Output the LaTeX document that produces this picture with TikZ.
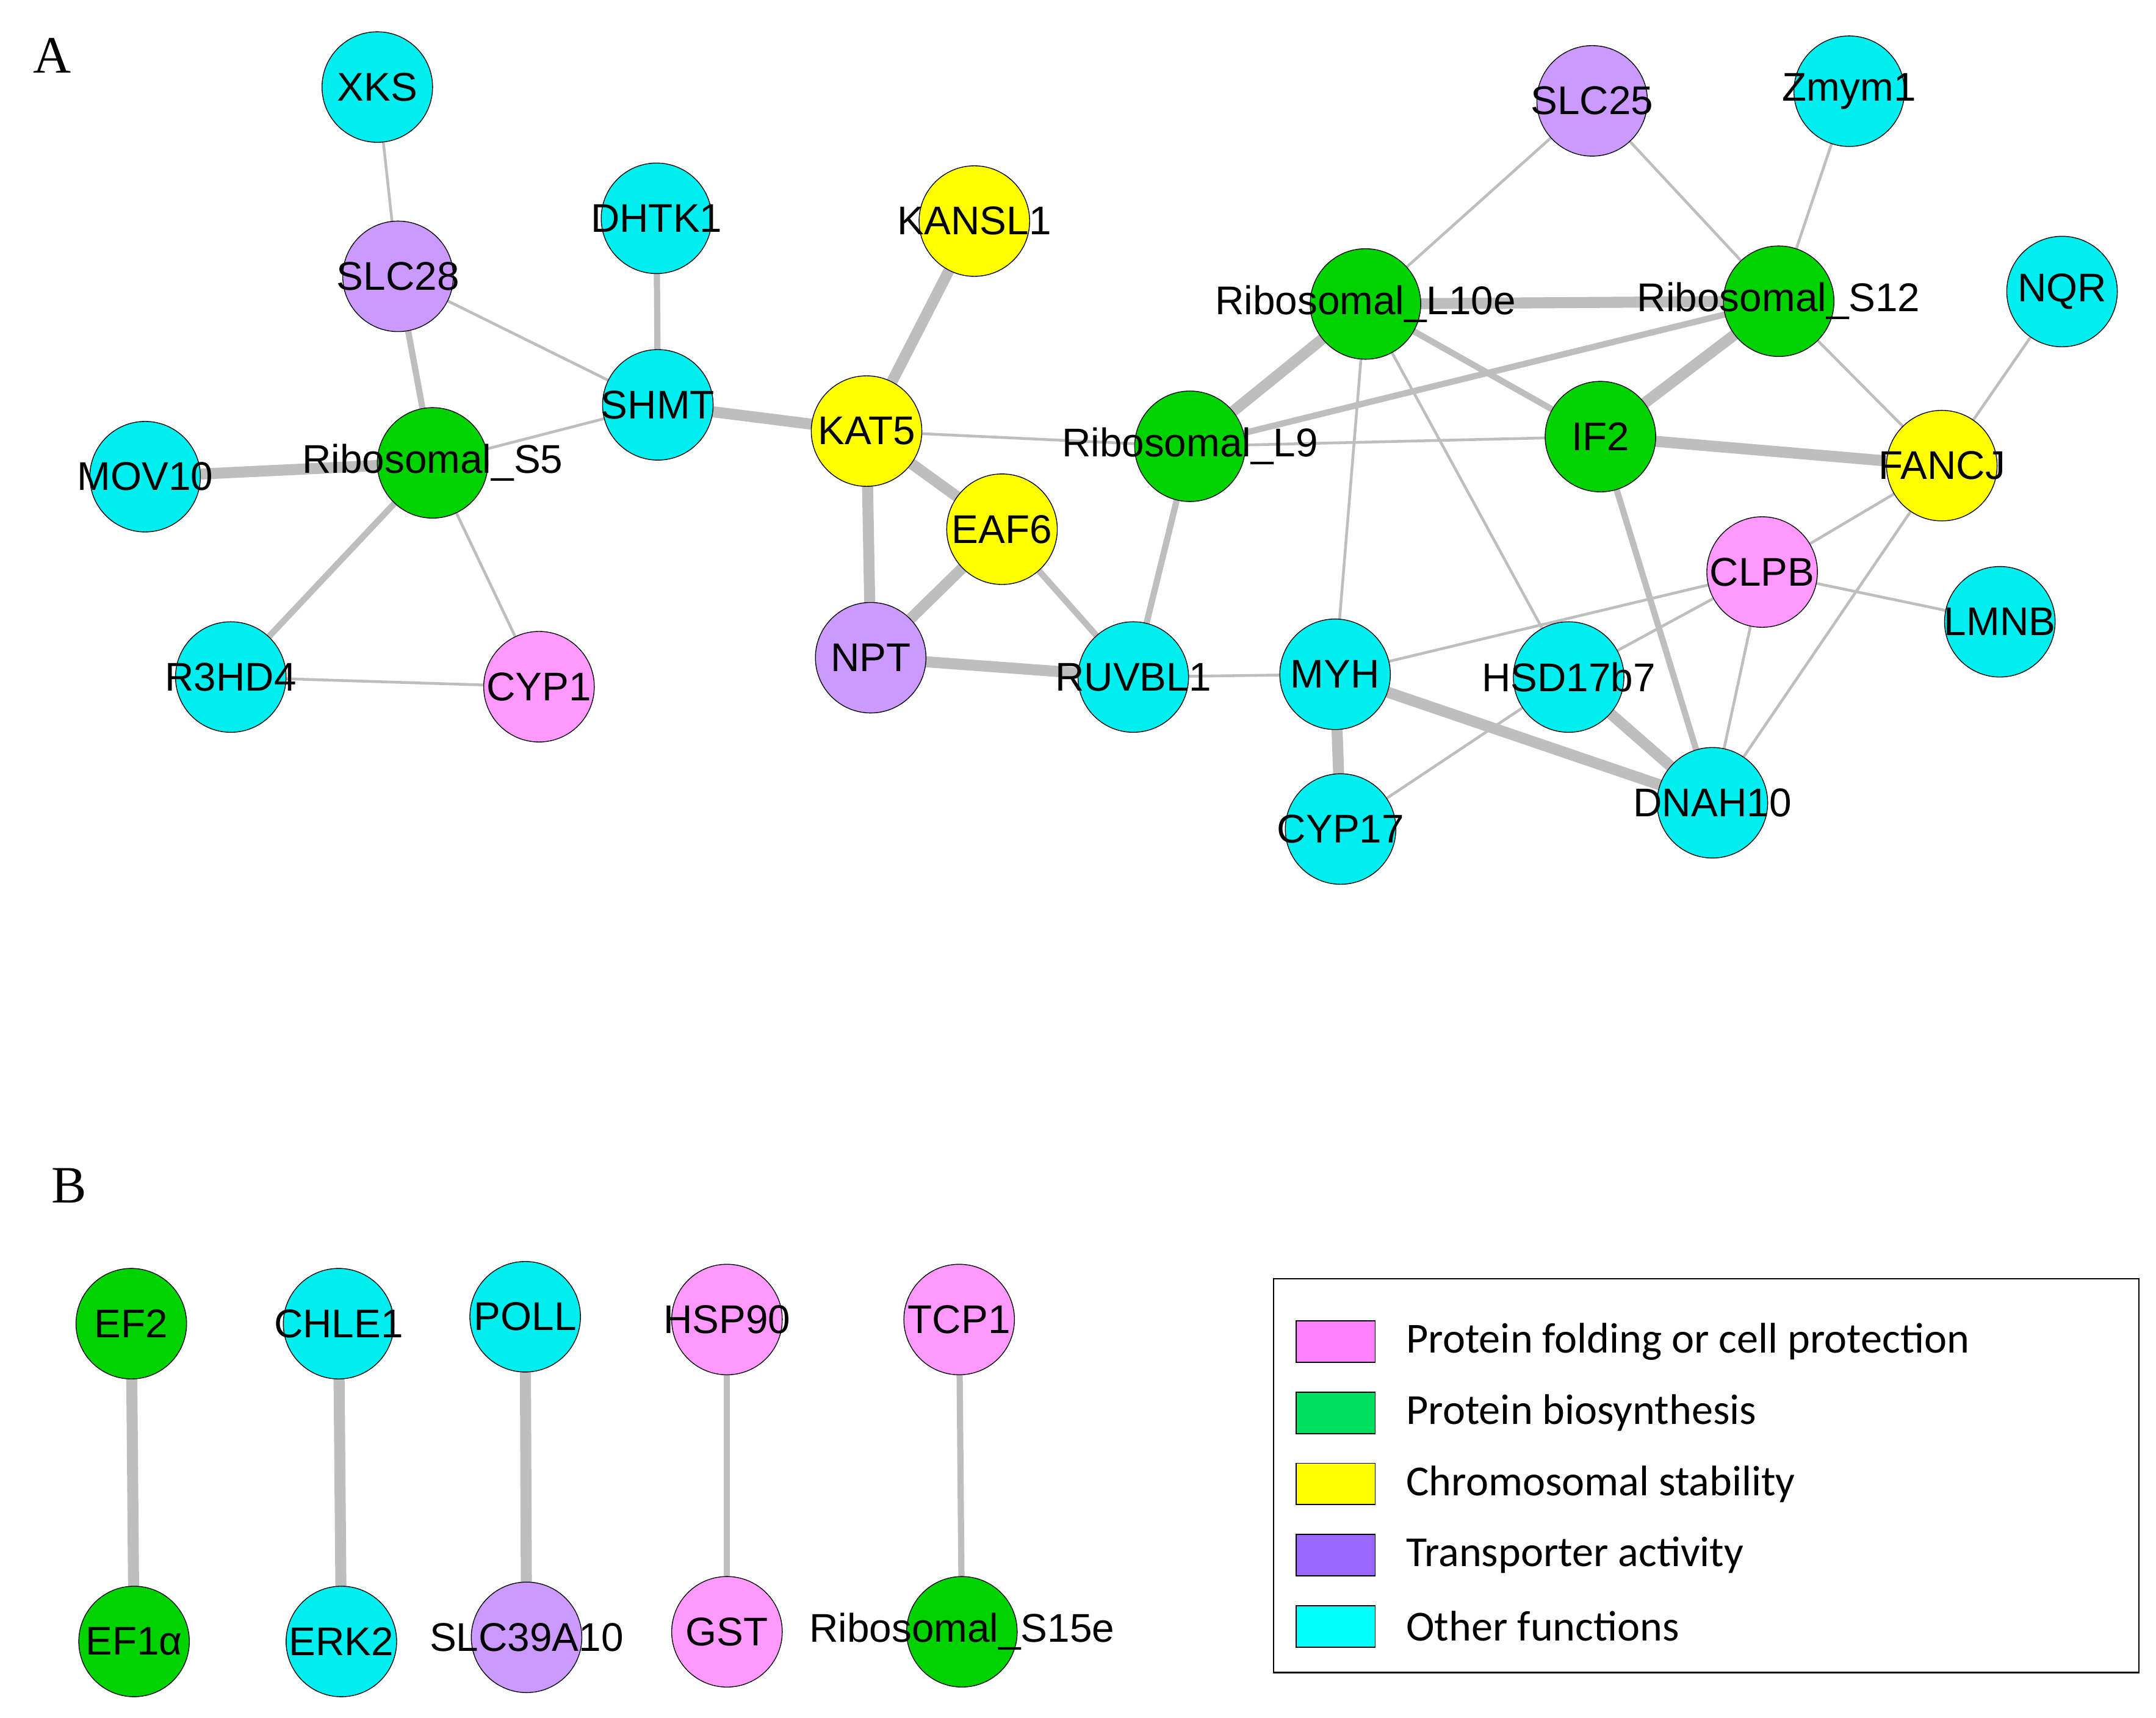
\documentclass[tikz,border=0pt]{standalone}
\usepackage{fontspec}
\setmainfont{Liberation Sans}
\newfontfamily\legfont{Carlito}
\newfontfamily\serfont{Liberation Serif}
\definecolor{cC}{RGB}{0,238,238}
\definecolor{cG}{RGB}{0,210,0}
\definecolor{cY}{RGB}{255,255,0}
\definecolor{cP}{RGB}{204,153,255}
\definecolor{cK}{RGB}{255,153,255}
\definecolor{eg}{RGB}{190,190,190}
\begin{document}
\begin{tikzpicture}[x=1pt,y=-1pt,
 nd/.style={circle,draw=black,line width=0.6pt,minimum size=80pt,inner sep=0pt},
 lb/.style={font=\fontsize{29}{30}\selectfont},
 e1/.style={draw=eg,line width=2pt},
 e2/.style={draw=eg,line width=4.5pt},
 e3/.style={draw=eg,line width=8pt}]
\useasboundingbox (0,0) rectangle (1560,1243);
\fill[white] (0,0) rectangle (1560,1243);
\node[font=\serfont\fontsize{38}{40}\selectfont] (A) at (38,40) {A};
\node[font=\serfont\fontsize{38}{40}\selectfont] (B) at (50,858) {B};
\foreach \n/\x/\y/\c in {XKS/273/63/cC, SLC28/288/200/cP, DHTK1/475/158/cC, KANSL1/705/160/cY, SHMT/476/293/cC, S5/313/335/cG, MOV10/105/345/cC, R3HD4/167/490/cC, CYP1/390/497/cK, KAT5/627/312/cY, EAF6/725/383/cY, NPT/630/476/cP, RUVBL1/820/490/cC, L9/861/323/cG, L10e/988/220/cG, SLC25/1152/73/cP, Zmym1/1338/66/cC, S12/1287/218/cG, NQR/1492/211/cC, IF2/1158/316/cG, FANCJ/1405/337/cY, CLPB/1275/414/cK, LMNB/1447/450/cC, MYH/966/488/cC, HSD/1135/490/cC, DNAH10/1239/581/cC, CYP17/970/600/cC, EF2/95/958/cG, EFa/97/1188/cG, CHLE1/245/958/cC, ERK2/247/1188/cC, POLL/380/953/cC, SLC39/381/1185/cP, HSP90/526/955/cK, GST/526/1181/cK, TCP1/694/955/cK, S15e/696/1181/cG}
  \coordinate (\n) at (\x,\y);
\begin{scope}[on background layer/.style={}]
\path[e1] (XKS)--(SLC28); \path[e2] (SLC28)--(S5); \path[e1] (SLC28)--(SHMT);
\path[e2] (DHTK1)--(SHMT); \path[e1] (SHMT)--(S5); \path[e3] (SHMT)--(KAT5);
\path[e3] (MOV10)--(S5); \path[e2] (S5)--(R3HD4); \path[e1] (S5)--(CYP1); \path[e1] (R3HD4)--(CYP1);
\path[e3] (KANSL1)--(KAT5); \path[e1] (KAT5)--(L9); \path[e3] (KAT5)--(EAF6); \path[e3] (KAT5)--(NPT);
\path[e3] (EAF6)--(NPT); \path[e2] (EAF6)--(RUVBL1); \path[e3] (NPT)--(RUVBL1); \path[e2] (RUVBL1)--(L9);
\path[e1] (RUVBL1)--(MYH); \path[e3] (L9)--(L10e); \path[e1] (L9)--(IF2); \path[e2] (L9)--(S12);
\path[e3] (L10e)--(S12); \path[e1] (L10e)--(SLC25); \path[e2] (L10e)--(IF2); \path[e1] (L10e)--(MYH);
\path[e1] (L10e)--(HSD); \path[e1] (SLC25)--(S12); \path[e1] (Zmym1)--(S12); \path[e3] (S12)--(IF2);
\path[e1] (S12)--(FANCJ); \path[e1] (NQR)--(FANCJ); \path[e3] (IF2)--(FANCJ); \path[e2] (IF2)--(DNAH10);
\path[e1] (FANCJ)--(CLPB); \path[e1] (FANCJ)--(DNAH10); \path[e1] (CLPB)--(LMNB); \path[e1] (CLPB)--(MYH);
\path[e1] (CLPB)--(DNAH10); \path[e1] (CLPB)--(HSD); \path[e3] (MYH)--(DNAH10); \path[e3] (MYH)--(CYP17);
\path[e1] (CYP17)--(HSD); \path[e3] (HSD)--(DNAH10);
\path[e3] (EF2)--(EFa); \path[e3] (CHLE1)--(ERK2); \path[e3] (POLL)--(SLC39); \path[e2] (HSP90)--(GST); \path[e2] (TCP1)--(S15e);
\end{scope}
\foreach \n/\c/\t in {XKS/cC/XKS, SLC28/cP/SLC28, DHTK1/cC/DHTK1, KANSL1/cY/KANSL1, SHMT/cC/SHMT, S5/cG/Ribosomal\_S5, MOV10/cC/MOV10, R3HD4/cC/R3HD4, CYP1/cK/CYP1, KAT5/cY/KAT5, EAF6/cY/EAF6, NPT/cP/NPT, RUVBL1/cC/RUVBL1, L9/cG/Ribosomal\_L9, L10e/cG/Ribosomal\_L10e, SLC25/cP/SLC25, Zmym1/cC/Zmym1, S12/cG/Ribosomal\_S12/S23, NQR/cC/NQR, IF2/cG/IF2, FANCJ/cY/FANCJ, CLPB/cK/CLPB, LMNB/cC/LMNB, MYH/cC/MYH, HSD/cC/HSD17b7, DNAH10/cC/DNAH10, CYP17/cC/CYP17, EF2/cG/EF2, EFa/cG/EF1α, CHLE1/cC/CHLE1, ERK2/cC/ERK2, POLL/cC/POLL, SLC39/cP/SLC39A10, HSP90/cK/HSP90, GST/cK/GST, TCP1/cK/TCP1, S15e/cG/Ribosomal\_S15e}
  \node[nd,fill=\c] (n\n) at (\n) {};
\foreach \n/\t in {XKS/XKS, SLC28/SLC28, DHTK1/DHTK1, KANSL1/KANSL1, SHMT/SHMT, S5/Ribosomal\_S5, MOV10/MOV10, R3HD4/R3HD4, CYP1/CYP1, KAT5/KAT5, EAF6/EAF6, NPT/NPT, RUVBL1/RUVBL1, L9/Ribosomal\_L9, L10e/Ribosomal\_L10e, SLC25/SLC25, Zmym1/Zmym1, S12/Ribosomal\_S12/S23, NQR/NQR, IF2/IF2, FANCJ/FANCJ, CLPB/CLPB, LMNB/LMNB, MYH/MYH, HSD/HSD17b7, DNAH10/DNAH10, CYP17/CYP17, EF2/EF2, EFa/EF1α, CHLE1/CHLE1, ERK2/ERK2, POLL/POLL, SLC39/SLC39A10, HSP90/HSP90, GST/GST, TCP1/TCP1, S15e/Ribosomal\_S15e}
  \node[lb] (t\n) at (\n) {\t};
\node[draw=black,line width=1pt,minimum width=626pt,minimum height=285pt,anchor=north west] (leg) at (921,925) {};
\foreach \i/\c/\t in {0/{rgb,255:red,255;green,128;blue,255}/Protein folding or cell protection, 1/{rgb,255:red,0;green,224;blue,96}/Protein biosynthesis, 2/{rgb,255:red,255;green,255;blue,0}/Chromosomal stability, 3/{rgb,255:red,153;green,102;blue,255}/Transporter activity, 4/{rgb,255:red,0;green,255;blue,255}/Other functions}{
  \node[draw=black,line width=0.8pt,fill=\c,minimum width=57pt,minimum height=30pt,inner sep=0pt] (sw\i) at (966.5,{971+51.5*\i}) {};
  \node[anchor=west,font=\legfont\fontsize{31}{32}\selectfont] (lt\i) at (1014,{971+51.5*\i}) {\t};
}
\end{tikzpicture}
\end{document}
